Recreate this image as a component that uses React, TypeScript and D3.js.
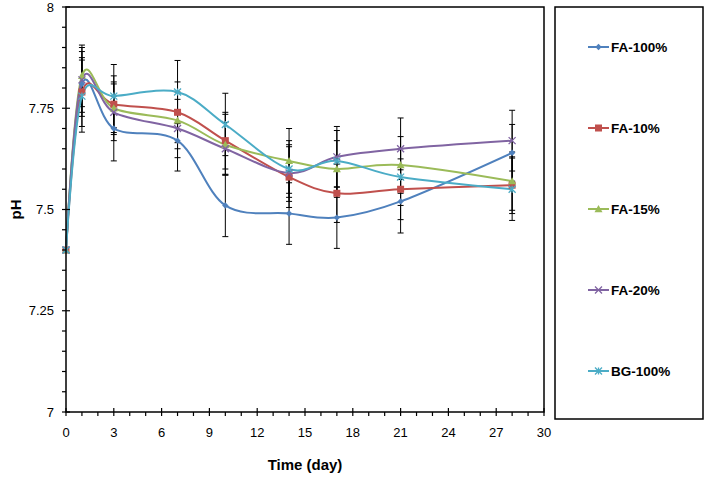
import React from 'react';
import * as d3 from 'd3';

const days = [0, 1, 3, 7, 10, 14, 17, 21, 28];
const seriesNames = ['FA-100%', 'FA-10%', 'FA-15%', 'FA-20%', 'BG-100%'];
const fa100 = [7.40, 7.81, 7.70, 7.67, 7.51, 7.49, 7.48, 7.52, 7.64];
const fa10 = [7.40, 7.79, 7.76, 7.74, 7.67, 7.58, 7.54, 7.55, 7.56];
const fa15 = [7.40, 7.83, 7.75, 7.72, 7.66, 7.62, 7.60, 7.61, 7.57];
const fa20 = [7.40, 7.82, 7.74, 7.70, 7.65, 7.59, 7.63, 7.65, 7.67];
const bg100 = [7.40, 7.78, 7.78, 7.79, 7.71, 7.60, 7.62, 7.58, 7.55];
const errFa100 = [0, 0.08, 0.08, 0.075, 0.077, 0.076, 0.076, 0.078, 0.07];
const errFa10 = [0, 0.085, 0.07, 0.075, 0.07, 0.075, 0.072, 0.075, 0.07];
const errFa15 = [0, 0.076, 0.065, 0.07, 0.075, 0.08, 0.07, 0.07, 0.072];
const errFa20 = [0, 0.08, 0.07, 0.072, 0.065, 0.07, 0.075, 0.076, 0.075];
const errBg100 = [0, 0.089, 0.078, 0.078, 0.077, 0.07, 0.075, 0.07, 0.077];
const colors = ['#4F81BD', '#C0504D', '#9BBB59', '#8064A2', '#4BACC6'];
const markerTypes = ['diamond', 'square', 'triangle', 'x', 'star'];
const xTicks = [0, 3, 6, 9, 12, 15, 18, 21, 24, 27, 30];
const yTicks = [7, 7.25, 7.5, 7.75, 8];
const yTickLabels = ['7', '7.25', '7.5', '7.75', '8'];

const W = 708, H = 477;
const L = 66, R = 544, T = 7, B = 412;

function Marker({ type, x, y, color }: { type: string; x: number; y: number; color: string }) {
  if (type === 'diamond') {
    const s = 3.2;
    return <path d={`M${x},${y - s}L${x + s},${y}L${x},${y + s}L${x - s},${y}Z`} fill={color} />;
  }
  if (type === 'square') {
    const s = 3.5;
    return <rect x={x - s} y={y - s} width={2 * s} height={2 * s} fill={color} />;
  }
  if (type === 'triangle') {
    const s = 4;
    return <path d={`M${x},${y - s}L${x + s},${y + s * 0.8}L${x - s},${y + s * 0.8}Z`} fill={color} />;
  }
  if (type === 'x') {
    const s = 3.5;
    return <path d={`M${x - s},${y - s}L${x + s},${y + s}M${x - s},${y + s}L${x + s},${y - s}`} stroke={color} strokeWidth={1.3} fill="none" />;
  }
  const s = 3.5;
  return <path d={`M${x - s},${y - s}L${x + s},${y + s}M${x - s},${y + s}L${x + s},${y - s}M${x},${y - s}L${x},${y + s}`} stroke={color} strokeWidth={1.3} fill="none" />;
}

export default function App() {
  const x = d3.scaleLinear().domain([0, 30]).range([L, R]);
  const y = d3.scaleLinear().domain([7, 8]).range([B, T]);
  const values = [fa100, fa10, fa15, fa20, bg100];
  const errs = [errFa100, errFa10, errFa15, errFa20, errBg100];
  const line = d3.line<[number, number]>()
    .x(d => x(d[0]))
    .y(d => y(d[1]))
    .curve(d3.curveCardinal.tension(0));
  const xMinor = d3.range(0, 31, 1);
  const yMinor = d3.range(0, 21).map(i => 7 + i * 0.05);
  const font = 'Liberation Sans, Arial, sans-serif';
  const legendY = [47, 128, 209, 290, 371];

  return (
    <svg width={W} height={H} style={{ position: 'absolute', left: 0, top: 0, background: '#fff' }} fontFamily={font}>
      <rect x={0} y={0} width={W} height={H} fill="#fff" />
      {values.map((vals, si) => (
        <g key={'e' + si} stroke="#000" strokeWidth={1}>
          {vals.map((v, i) => {
            const e = errs[si][i];
            if (!e) return null;
            const cx = x(days[i]);
            return (
              <g key={i}>
                <line x1={cx} x2={cx} y1={y(v - e)} y2={y(v + e)} />
                <line x1={cx - 3} x2={cx + 3} y1={y(v - e)} y2={y(v - e)} />
                <line x1={cx - 3} x2={cx + 3} y1={y(v + e)} y2={y(v + e)} />
              </g>
            );
          })}
        </g>
      ))}
      {values.map((vals, si) => (
        <path key={'l' + si} d={line(vals.map((v, i) => [days[i], v] as [number, number])) || ''} fill="none" stroke={colors[si]} strokeWidth={2} />
      ))}
      {values.map((vals, si) => (
        <g key={'m' + si}>
          {vals.map((v, i) => (
            <Marker key={i} type={markerTypes[si]} x={x(days[i])} y={y(v)} color={colors[si]} />
          ))}
        </g>
      ))}
      <rect x={L} y={T} width={R - L} height={B - T} fill="none" stroke="#000" strokeWidth={1.5} />
      {xMinor.map(d => (
        <line key={'xm' + d} x1={x(d)} x2={x(d)} y1={d % 3 === 0 ? B - 4 : B} y2={B + 4} stroke="#000" strokeWidth={1.2} />
      ))}
      {xTicks.map(d => (
        <text key={'xt' + d} x={x(d)} y={437} textAnchor="middle" fontSize={13}>{d}</text>
      ))}
      {yMinor.map((d, i) => (
        <line key={'ym' + i} x1={L - 4} x2={i % 5 === 0 ? L + 4 : L} y1={y(d)} y2={y(d)} stroke="#000" strokeWidth={1.2} />
      ))}
      {yTicks.map((d, i) => (
        <text key={'yt' + i} x={L - 12} y={y(d) + 4.5} textAnchor="end" fontSize={13}>{yTickLabels[i]}</text>
      ))}
      <text x={305} y={470} textAnchor="middle" fontSize={15} fontWeight="bold">Time (day)</text>
      <text transform={`translate(21,${(T + B) / 2}) rotate(-90)`} textAnchor="middle" fontSize={15} fontWeight="bold">pH</text>
      <rect x={555} y={7} width={148} height={412} fill="#fff" stroke="#000" strokeWidth={1.5} />
      {seriesNames.map((n, i) => (
        <g key={'lg' + i}>
          <line x1={588} x2={609} y1={legendY[i]} y2={legendY[i]} stroke={colors[i]} strokeWidth={2} />
          <Marker type={markerTypes[i]} x={598.5} y={legendY[i]} color={colors[i]} />
          <text x={611} y={legendY[i] + 5} fontSize={13.5} fontWeight="bold">{n}</text>
        </g>
      ))}
    </svg>
  );
}
